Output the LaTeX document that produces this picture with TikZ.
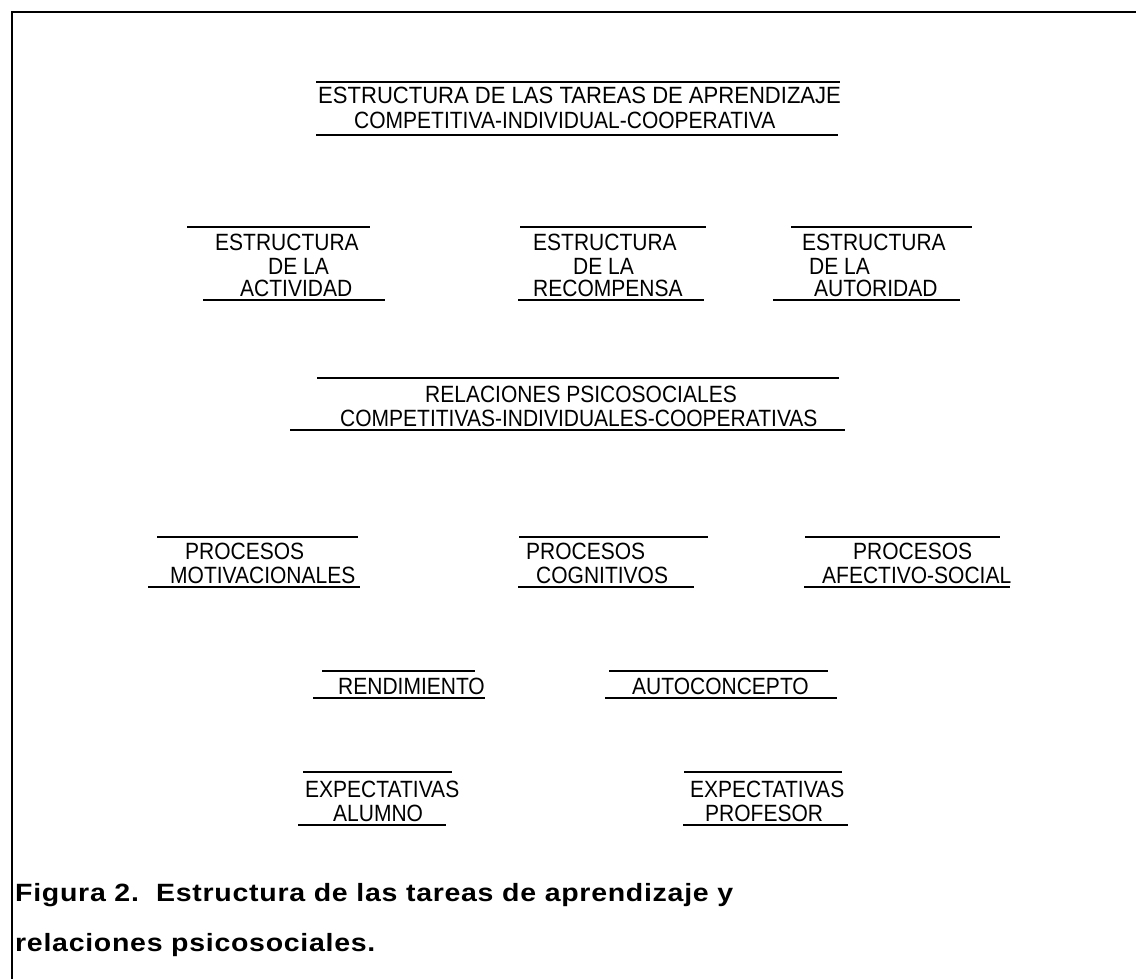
\documentclass[tikz,border=0pt]{standalone}
\usepackage{fontspec}
\usepackage{graphicx}
\setmainfont{Liberation Sans}
\newfontfamily\capfont[LetterSpace=2.5]{Liberation Sans Bold}
\newcommand\tx[1]{\scalebox{1}[1.12]{#1}}
\newcommand\cx[1]{\scalebox{1.14}[1]{#1}}
\begin{document}
\begin{tikzpicture}[x=1pt,y=-1pt,
  lbl/.style={inner sep=0pt, anchor=base west, font=\fontsize{21}{24}\selectfont},
  captext/.style={inner sep=0pt, anchor=base west, font=\fontsize{25}{30}\capfont},
  rule/.style={line width=1.8pt},
  frame/.style={line width=2.2pt}]
\useasboundingbox (0,0) rectangle (1136,979);
\fill[white] (0,0) rectangle (1136,979);
% frame
\draw[frame] (12,979) -- (12,12) -- (1136,12);
% box 1
\draw[rule] (316,82) -- (840,82);
\node[lbl] (t1a) at (318,104) {\scalebox{1.05}[1.12]{ESTRUCTURA DE LAS TAREAS DE APRENDIZAJE}};
\node[lbl] (t1b) at (354,129) {\tx{COMPETITIVA-INDIVIDUAL-COOPERATIVA}};
\draw[rule] (316,135) -- (838,135);
% row 2
\draw[rule] (187,227) -- (370,227);
\node[lbl] (a1) at (215,251) {\tx{ESTRUCTURA}};
\node[lbl] (a2) at (268,274) {\tx{DE LA}};
\node[lbl] (a3) at (240,296) {\tx{ACTIVIDAD}};
\draw[rule] (203,300) -- (385,300);
\draw[rule] (520,227) -- (706,227);
\node[lbl] (b1) at (533,251) {\tx{ESTRUCTURA}};
\node[lbl] (b2) at (573,274) {\tx{DE LA}};
\node[lbl] (b3) at (533,296) {\tx{RECOMPENSA}};
\draw[rule] (518,300) -- (704,300);
\draw[rule] (791,227) -- (972,227);
\node[lbl] (c1) at (802,251) {\tx{ESTRUCTURA}};
\node[lbl] (c2) at (809,274) {\tx{DE LA}};
\node[lbl] (c3) at (814,296) {\tx{AUTORIDAD}};
\draw[rule] (773,300) -- (960,300);
% row 3
\draw[rule] (317,378) -- (839,378);
\node[lbl] (r1) at (425,402) {\tx{RELACIONES PSICOSOCIALES}};
\node[lbl] (r2) at (340,426) {\tx{COMPETITIVAS-INDIVIDUALES-COOPERATIVAS}};
\draw[rule] (290,430) -- (845,430);
% row 4
\draw[rule] (157,537) -- (358,537);
\node[lbl] (p1a) at (185,559) {\tx{PROCESOS}};
\node[lbl] (p1b) at (170,583) {\tx{MOTIVACIONALES}};
\draw[rule] (148,587) -- (360,587);
\draw[rule] (519,537) -- (708,537);
\node[lbl] (p2a) at (526,559) {\tx{PROCESOS}};
\node[lbl] (p2b) at (536,583) {\tx{COGNITIVOS}};
\draw[rule] (518,587) -- (694,587);
\draw[rule] (805,537) -- (1000,537);
\node[lbl] (p3a) at (853,559) {\tx{PROCESOS}};
\node[lbl] (p3b) at (822,583) {\tx{AFECTIVO-SOCIAL}};
\draw[rule] (804,587) -- (1010,587);
% row 5
\draw[rule] (322,671) -- (475,671);
\node[lbl] (rend) at (338,694) {\tx{RENDIMIENTO}};
\draw[rule] (313,698) -- (485,698);
\draw[rule] (609,671) -- (828,671);
\node[lbl] (auto) at (632,694) {\tx{AUTOCONCEPTO}};
\draw[rule] (605,698) -- (837,698);
% row 6
\draw[rule] (303,772) -- (452,772);
\node[lbl] (ea1) at (305,797) {\tx{EXPECTATIVAS}};
\node[lbl] (ea2) at (333,821) {\tx{ALUMNO}};
\draw[rule] (298,825) -- (446,825);
\draw[rule] (684,772) -- (842,772);
\node[lbl] (ep1) at (690,797) {\tx{EXPECTATIVAS}};
\node[lbl] (ep2) at (705,821) {\tx{PROFESOR}};
\draw[rule] (683,825) -- (848,825);
% caption
\node[captext] (cap1) at (15,901) {\cx{Figura 2.\ \ Estructura de las tareas de aprendizaje y}};
\node[captext] (cap2) at (15,951) {\cx{relaciones psicosociales.}};
\end{tikzpicture}
\end{document}
